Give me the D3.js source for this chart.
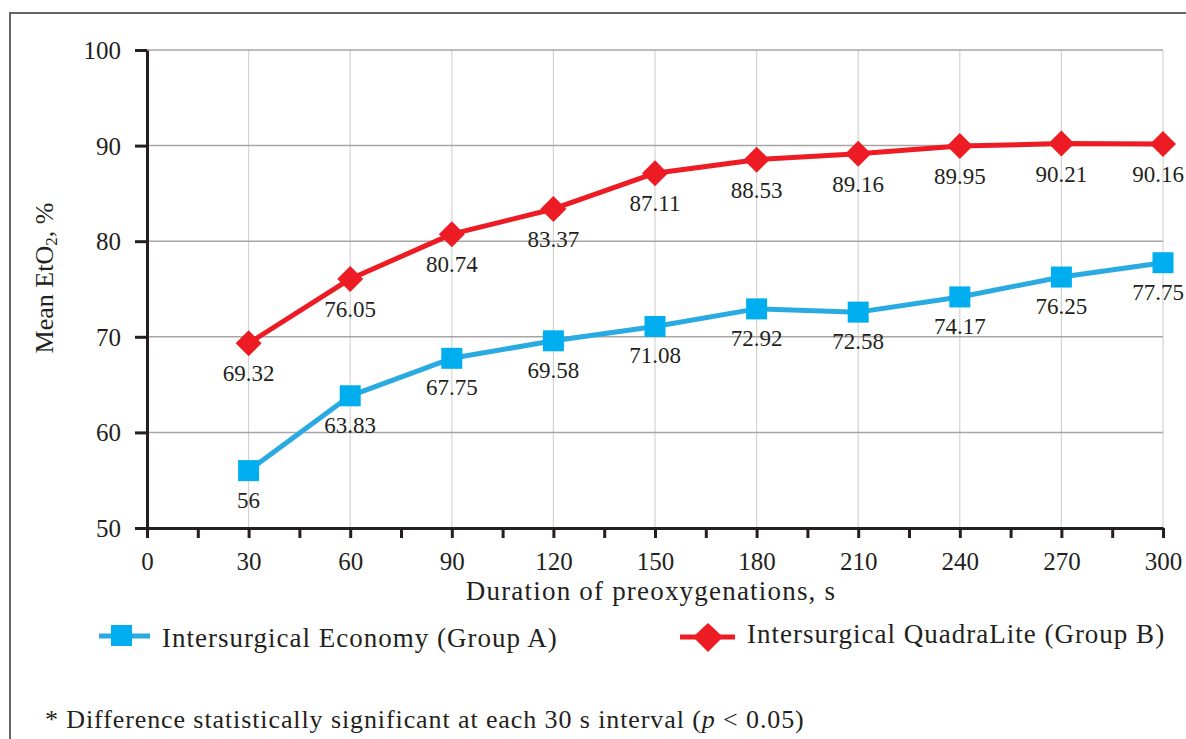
<!DOCTYPE html>
<html>
<head>
<meta charset="utf-8">
<script src="https://cdn.jsdelivr.net/npm/d3@7/dist/d3.min.js"></script>
<style>
  html, body { margin: 0; padding: 0; background: #fff; }
  svg { display: block; }
  text { font-family: "Liberation Serif", "Times New Roman", serif; fill: #231f20; }
</style>
</head>
<body>
<svg id="chart" width="1186" height="739"></svg>
<script>
const durations = [30, 60, 90, 120, 150, 180, 210, 240, 270, 300];
const groupA = [56, 63.83, 67.75, 69.58, 71.08, 72.92, 72.58, 74.17, 76.25, 77.75];
const groupB = [69.32, 76.05, 80.74, 83.37, 87.11, 88.53, 89.16, 89.95, 90.21, 90.16];
const groupALabels = ["56", "63.83", "67.75", "69.58", "71.08", "72.92", "72.58", "74.17", "76.25", "77.75"];
const groupBLabels = ["69.32", "76.05", "80.74", "83.37", "87.11", "88.53", "89.16", "89.95", "90.21", "90.16"];
const xTicks = [0, 15, 30, 45, 60, 75, 90, 105, 120, 135, 150, 165, 180, 195, 210, 225, 240, 255, 270, 285, 300];
const yTicks = [50, 60, 70, 80, 90, 100];
const seriesNames = ["Intersurgical Economy (Group A)", "Intersurgical QuadraLite (Group B)"];

const svg = d3.select("#chart");
const blue = "#00aeef", blueLine = "#29abe2", red = "#ed1c24";

// outer frame
svg.append("path").attr("d", "M10,739 V13 H1186")
  .attr("fill", "none").attr("stroke", "#666").attr("stroke-width", 2);

const x = d3.scaleLinear().domain([0, 300]).range([147, 1163]);
const y = d3.scaleLinear().domain([50, 100]).range([528, 50]);

// grid
svg.append("g").selectAll("line").data(durations).join("line")
  .attr("x1", d => x(d)).attr("x2", d => x(d)).attr("y1", y(100)).attr("y2", y(50))
  .attr("stroke", "#d4d4d4").attr("stroke-width", 1.2);
svg.append("g").selectAll("line").data(yTicks.filter(d => d > 50)).join("line")
  .attr("x1", x(0)).attr("x2", x(300)).attr("y1", d => y(d)).attr("y2", d => y(d))
  .attr("stroke", "#a6a6a6").attr("stroke-width", 1.5);

// axes
const xAxis = svg.append("g").attr("transform", `translate(0,${y(50)})`)
  .call(d3.axisBottom(x).tickValues(xTicks).tickSize(10).tickSizeOuter(0)
    .tickFormat(d => d % 30 === 0 ? d : ""));
xAxis.select(".domain").attr("stroke", "#231f20").attr("stroke-width", 3);
xAxis.selectAll(".tick line").attr("stroke", "#231f20").attr("stroke-width", 3);
xAxis.selectAll(".tick text").attr("y", 42).attr("dy", 0)
  .style("font-size", "25px").style("font-family", "Liberation Serif, serif").attr("fill", "#231f20");

const yAxis = svg.append("g").attr("transform", `translate(${x(0)},0)`)
  .call(d3.axisLeft(y).tickValues(yTicks).tickSize(12).tickSizeOuter(0).tickPadding(14));
yAxis.select(".domain").attr("stroke", "#231f20").attr("stroke-width", 3);
yAxis.selectAll(".tick line").attr("stroke", "#231f20").attr("stroke-width", 3);
yAxis.selectAll(".tick text").attr("dy", "0.34em")
  .style("font-size", "25px").style("font-family", "Liberation Serif, serif").attr("fill", "#231f20");

// axis titles
svg.append("text").attr("x", 651).attr("y", 600).attr("text-anchor", "middle")
  .style("font-size", "27px").style("letter-spacing", "1.2px").text("Duration of preoxygenations, s");
const yt = svg.append("text").attr("transform", "translate(53,278) rotate(-90)")
  .attr("text-anchor", "middle").style("font-size", "26px");
yt.append("tspan").text("Mean EtO");
yt.append("tspan").attr("baseline-shift", "-25%").style("font-size", "17px").text("2");
yt.append("tspan").text(", %");

// lines
const line = d3.line().x(d => x(d[0])).y(d => y(d[1]));
const dataA = durations.map((d, i) => [d, groupA[i]]);
const dataB = durations.map((d, i) => [d, groupB[i]]);

svg.append("path").datum(dataA).attr("d", line).attr("fill", "none")
  .attr("stroke", blueLine).attr("stroke-width", 5).attr("stroke-linejoin", "round");
svg.append("path").datum(dataB).attr("d", line).attr("fill", "none")
  .attr("stroke", red).attr("stroke-width", 5).attr("stroke-linejoin", "round");

// markers
const sq = 21;
svg.append("g").selectAll("rect").data(dataA).join("rect")
  .attr("x", d => x(d[0]) - sq / 2).attr("y", d => y(d[1]) - sq / 2)
  .attr("width", sq).attr("height", sq).attr("fill", blue);
const dm = 13;
svg.append("g").selectAll("path").data(dataB).join("path")
  .attr("d", d => { const cx = x(d[0]), cy = y(d[1]);
    return `M${cx},${cy - dm} L${cx + dm},${cy} L${cx},${cy + dm} L${cx - dm},${cy} Z`; })
  .attr("fill", red);

// data labels (last label kept inside the picture)
const labX = (d, i) => i === durations.length - 1 ? 1184 : x(d[0]);
const labAnchor = (d, i) => i === durations.length - 1 ? "end" : "middle";
svg.append("g").selectAll("text").data(dataA).join("text")
  .attr("x", labX).attr("y", d => y(d[1]) + 37).attr("text-anchor", labAnchor)
  .style("font-size", "23px").text((d, i) => groupALabels[i]);
svg.append("g").selectAll("text").data(dataB).join("text")
  .attr("x", labX).attr("y", d => y(d[1]) + 38).attr("text-anchor", labAnchor)
  .style("font-size", "23px").text((d, i) => groupBLabels[i]);

// legend
const lgA = svg.append("g");
lgA.append("line").attr("x1", 99).attr("x2", 150).attr("y1", 636).attr("y2", 636)
  .attr("stroke", blueLine).attr("stroke-width", 5);
lgA.append("rect").attr("x", 111).attr("y", 625).attr("width", 21).attr("height", 21).attr("fill", blue);
lgA.append("text").attr("x", 162).attr("y", 647).style("font-size", "27px")
  .style("letter-spacing", "1px").text(seriesNames[0]);

const lgB = svg.append("g");
lgB.append("line").attr("x1", 680).attr("x2", 735).attr("y1", 637).attr("y2", 637)
  .attr("stroke", red).attr("stroke-width", 5);
lgB.append("path").attr("d", "M708,623 L723,637 L708,652 L693,637 Z").attr("fill", red);
lgB.append("text").attr("x", 747).attr("y", 643).style("font-size", "27px")
  .style("letter-spacing", "1px").text(seriesNames[1]);

// footnote
const fn = svg.append("text").attr("x", 45).attr("y", 728).style("font-size", "26px")
  .style("letter-spacing", "0.9px");
fn.append("tspan").text("* Difference statistically significant at each 30 s interval (");
fn.append("tspan").style("font-style", "italic").text("p");
fn.append("tspan").text(" < 0.05)");
</script>
</body>
</html>
